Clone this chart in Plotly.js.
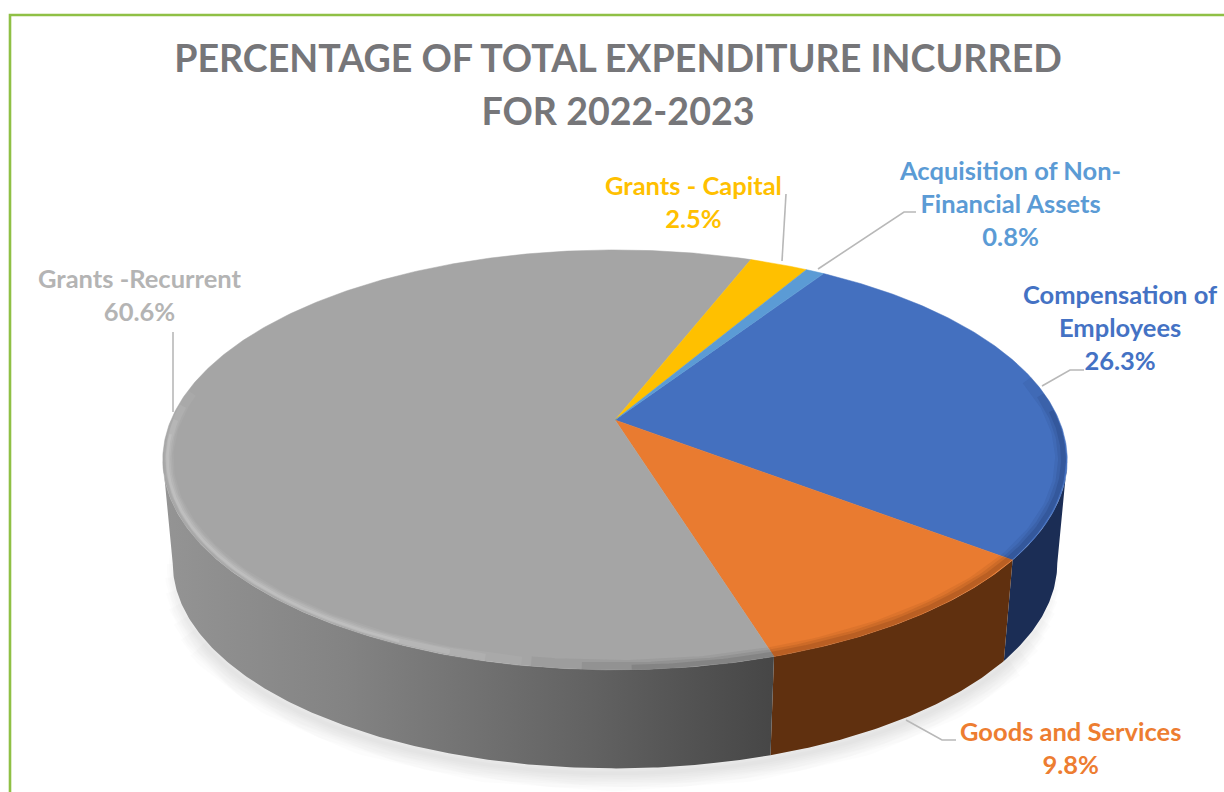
<!DOCTYPE html>
<html>
<head>
<meta charset="utf-8">
<script src="https://cdn.plot.ly/plotly-3.0.1.min.js"></script>
<style>html,body{margin:0;padding:0;background:#fff}#chart{width:1224px;height:792px}</style>
</head>
<body>
<div id="chart"></div>
<script>
// ---- data ----
const categories = ['Compensation of Employees', 'Goods and Services', 'Grants -Recurrent', 'Grants - Capital', 'Acquisition of Non-Financial Assets'];
const percentages = [26.3, 9.8, 60.6, 2.5, 0.8];
const labelLines = ['Compensation of<br>Employees', 'Goods and Services', 'Grants -Recurrent', 'Grants - Capital', 'Acquisition of Non-<br>Financial Assets'];
const topColors = ['#4470BF', '#E97B30', '#A5A5A5', '#FFC000', '#5B9BD5'];
const labelColors = ['#4472C4', '#ED7D31', '#B4B4B4', '#FFC000', '#5B9BD5'];
const titleLines = ['PERCENTAGE OF TOTAL EXPENDITURE INCURRED', 'FOR 2022-2023'];

// ---- layout of the tilted disc ----
const firstAngle = 33;            // degrees clockwise from "up"
const cx = 615, cy = 420, A = 444, B = 202.4, k = 0.19;   // perspective ellipse
const baseCy = 524, baseScale = 0.978;
const tangentRight = 101, tangentLeft = 259;              // where the side wall meets the outline
function topPt(deg, r) {
  const t = deg * Math.PI / 180, u = r * Math.sin(t), v = -r * Math.cos(t), w = 1 - k * v;
  return [cx + A * u / w, cy + B * v / w];
}
function basePt(deg, r) {
  const p = topPt(deg, r);
  return [cx + baseScale * (p[0] - cx), baseCy + baseScale * (p[1] - cy)];
}
function arc(fn, a, b, r) {
  const n = Math.max(2, Math.ceil(Math.abs(b - a) * 2)), pts = [];
  for (let i = 0; i <= n; i++) pts.push(fn(a + (b - a) * i / n, r));
  return pts;
}
function lineTrace(pts, color, width) {
  return {type:'scatter', mode:'lines', x:pts.map(p=>p[0]), y:pts.map(p=>p[1]), line:{color, width, shape:'linear'},
          hoverinfo:'skip', showlegend:false};
}

// slice boundary angles from the values
const total = percentages.reduce((a, b) => a + b, 0);
const bounds = [firstAngle];
percentages.forEach(p => bounds.push(bounds[bounds.length - 1] + p / total * 360));

const traces = [];

// soft ground shadow: wider strokes stop earlier so the ends fade
[36, 32, 28, 24, 20, 16, 12, 8, 4].forEach(w => {
  const s = arc(basePt, tangentRight + w * 0.7, tangentLeft + 12 - w * 0.9, 1).map(p => [p[0], p[1] + 5]);
  traces.push(lineTrace(s, 'rgba(0,0,0,0.012)', w));
});

// side walls (front part only)
const wallScales = [
  [[0,'#1B2D55'],[1,'#1B2D55']],
  [[0,'#60300F'],[1,'#60300F']],
  [[0,'#949494'],[0.3,'#838383'],[0.7,'#626262'],[1,'#464646']]
];
[[tangentRight, bounds[1], 0], [bounds[1], bounds[2], 1], [bounds[2], tangentLeft, 2]].forEach(([a, b, i]) => {
  const pts = arc(topPt, a, b, 1).concat(arc(basePt, b, a, 1));
  traces.push({type:'scatter', mode:'lines', x:pts.map(p=>p[0]), y:pts.map(p=>p[1]), fill:'toself',
    line:{width:0}, fillgradient:{type:'horizontal', colorscale:wallScales[i]},
    name:categories[i] + ' side', hoverinfo:'skip', showlegend:false});
});

// top surface slices
percentages.forEach((p, i) => {
  const pts = [[cx, cy]].concat(arc(topPt, bounds[i], bounds[i + 1], 1));
  pts.push([cx, cy]);
  traces.push({type:'scatter', mode:'lines', x:pts.map(q=>q[0]), y:pts.map(q=>q[1]), fill:'toself', fillcolor:topColors[i],
    line:{width:0.5, color:topColors[i]}, name:categories[i],
    text:categories[i] + ': ' + p.toFixed(1) + '%', hoverinfo:'text', hoveron:'fills', showlegend:false});
});

// bevel on the front edge: stacked soft strokes that fade out at their ends
[[bounds[0] + 45, bounds[1], 'rgba(15,30,70,', 14],
 [bounds[1], bounds[2], 'rgba(70,30,5,', 0],
 [bounds[2], bounds[2] + 26, 'rgba(50,50,50,', -8]].forEach(([a, b, c, lead]) => {
  [[0.986, 11, 0.07, 1], [0.989, 8, 0.10, 0.66], [0.992, 5, 0.14, 0.33]].forEach(([r, w, al, f]) => {
    const aa = lead > 0 ? a + lead * (1 - f) : a;
    const bb = lead < 0 ? b + lead * (1 - f) * 2 : b;
    traces.push(lineTrace(arc(topPt, aa, bb, r), c + al + ')', w));
  });
});
[[0.988, 10, 0.05, 190, 278], [0.988, 7, 0.07, 194, 274], [0.989, 5, 0.09, 198, 270], [0.99, 2.5, 0.12, 204, 266]].forEach(([r, w, al, a, b]) => {
  traces.push(lineTrace(arc(topPt, a, b, r), 'rgba(255,255,255,' + al + ')', w));
});

// text labels
const labelCentres = [[1120, 326.5], [1070, 747.5], [140, 294.5], [693, 201], [1010, 203]];
const annotations = labelLines.map((txt, i) => ({
  xref:'x', yref:'y', x:labelCentres[i][0], y:labelCentres[i][1], text:txt + '<br>' + percentages[i].toFixed(1) + '%',
  showarrow:false, xanchor:'center', yanchor:'middle', align:'center',
  font:{family:'Lato, "Open Sans", sans-serif', size:25.5, color:labelColors[i], weight:700}
}));

// leader lines and frame
const leaders = [
  'M 1042 386 L 1070 370 L 1084 370',
  'M 906 720 L 942 740 L 956 740',
  'M 173 412 L 173 332',
  'M 782 261 L 786 194',
  'M 818 269 L 904 212 L 916 212'
];
const shapes = leaders.map(path => ({type:'path', xref:'x', yref:'y', path, line:{color:'#B8B8B8', width:1.6}, layer:'above'}));
shapes.push({type:'path', xref:'x', yref:'y', path:'M 1224 15 L 10 15 L 10 792', line:{color:'#8FC045', width:2.6}, layer:'above'});

Plotly.newPlot('chart', traces, {
  width:1224, height:792, margin:{l:0, r:0, t:0, b:0}, paper_bgcolor:'#fff', plot_bgcolor:'#fff', showlegend:false,
  title:{text:titleLines.map(t => '<span style="font-size:37.6px">' + t + '</span>').join('<br>'),
         x:618/1224, xanchor:'center', y:1 - 72/792, yanchor:'middle', yref:'container',
         font:{family:'Lato, "Open Sans", sans-serif', size:40.8, color:'#767679', weight:700}},
  xaxis:{range:[0,1224], visible:false, fixedrange:true},
  yaxis:{range:[792,0], visible:false, fixedrange:true},
  annotations, shapes
}, {displayModeBar:false});
</script>
</body>
</html>
